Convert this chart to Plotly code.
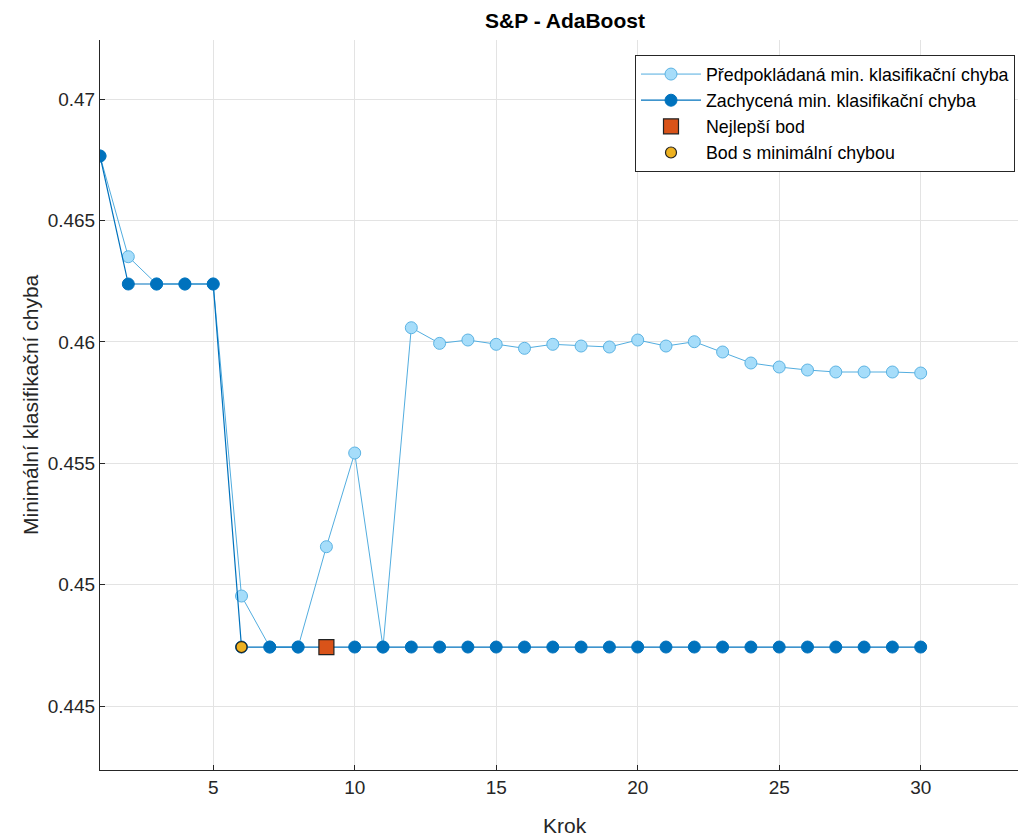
import plotly.graph_objects as go

steps = list(range(1, 31))
estimated = [0.467664, 0.463514, 0.462389, 0.462389, 0.462389, 0.449532, 0.447430, 0.447430,
             0.451564, 0.455425, 0.447430, 0.460588, 0.459943, 0.460081, 0.459904, 0.459739,
             0.459904, 0.459834, 0.459793, 0.460081, 0.459834, 0.460011, 0.459587, 0.459134,
             0.458969, 0.458845, 0.458763, 0.458763, 0.458763, 0.458722]
observed = [0.467664, 0.462389, 0.462389, 0.462389, 0.462389] + [0.447430] * 25
best_x = [9]
best_y = [0.447430]
min_x = [6]
min_y = [0.447430]

names = ["Předpokládaná min. klasifikační chyba", "Zachycená min. klasifikační chyba",
         "Nejlepší bod", "Bod s minimální chybou"]
title_text = "S&P - AdaBoost"
xlabel = "Krok"
ylabel = "Minimální klasifikační chyba"
xticks = [5, 10, 15, 20, 25, 30]
yticks = [0.445, 0.45, 0.455, 0.46, 0.465, 0.47]

FONT = "Liberation Sans, Arial, Helvetica, sans-serif"
TXT = "#262626"

fig = go.Figure()
fig.add_trace(go.Scatter(x=steps, y=estimated, mode="lines+markers", name=names[0],
                         line=dict(color="#52ADDF", width=1),
                         marker=dict(size=12, color="#A6DDFA", line=dict(color="#5CB3E3", width=1))))
fig.add_trace(go.Scatter(x=steps, y=observed, mode="lines+markers", name=names[1],
                         line=dict(color="#0072BD", width=1.2),
                         marker=dict(size=12, color="#0072BD", line=dict(color="#0072BD", width=1))))
fig.add_trace(go.Scatter(x=best_x, y=best_y, mode="markers", name=names[2],
                         marker=dict(symbol="square", size=15, color="#D95319", line=dict(color="#222222", width=1.2))))
fig.add_trace(go.Scatter(x=min_x, y=min_y, mode="markers", name=names[3],
                         marker=dict(size=11, color="#EDB120", line=dict(color="#222222", width=1.2))))

W, H = 1018, 839
PL, PR, PT, PB = 100, 1018, 40, 770  # plot area in window pixels
L, R, T, B = PL, W - PR, PT, H - PB
PW, PH = PR - PL, PB - PT

fig.update_layout(
    width=W, height=H,
    margin=dict(l=L, r=R, t=T, b=B),
    plot_bgcolor="white", paper_bgcolor="white",
    font=dict(family=FONT, size=19, color=TXT),
    showlegend=True,
    legend=dict(x=(1015 - PL) / PW, y=1 - 15 / PH, xanchor="right", yanchor="top",
                bgcolor="white", bordercolor="#262626", borderwidth=1,
                font=dict(family=FONT, size=17.8, color="#000000"),
                tracegroupgap=0, itemwidth=60),
    title=dict(text="<b>" + title_text + "</b>", x=565 / W, xref="container", xanchor="center",
               y=1 - 21 / H, yref="container", yanchor="middle",
               font=dict(family=FONT, size=21, color="#000000")),
    annotations=[
        dict(text=xlabel, x=(565 - PL) / PW, xref="paper", y=-(826 - PB) / PH, yref="paper",
             xanchor="center", yanchor="middle", showarrow=False,
             font=dict(family=FONT, size=21, color=TXT)),
        dict(text=ylabel, x=-(PL - 30) / PW, xref="paper", y=(PB - 405) / PH, yref="paper",
             xanchor="center", yanchor="middle", showarrow=False, textangle=-90,
             font=dict(family=FONT, size=21, color=TXT)),
    ],
)
fig.update_xaxes(range=[1, 1 + PW / 28.3], tickvals=xticks, ticks="inside", ticklen=5,
                 tickcolor=TXT, showline=True, linecolor=TXT, linewidth=1, mirror=False,
                 showgrid=True, gridcolor="#E3E3E3", gridwidth=1, zeroline=False,
                 tickfont=dict(family=FONT, size=19, color=TXT))
fig.update_yaxes(range=[0.442363, 0.472444], tickvals=yticks, tickformat="~g", ticks="inside", ticklen=5,
                 tickcolor=TXT, showline=True, linecolor=TXT, linewidth=1, mirror=False,
                 showgrid=True, gridcolor="#E3E3E3", gridwidth=1, zeroline=False,
                 tickfont=dict(family=FONT, size=19, color=TXT))

fig.write_html("out.html", config={"displayModeBar": False},
               post_script="document.body.style.margin='0';document.body.style.overflow='hidden';")
